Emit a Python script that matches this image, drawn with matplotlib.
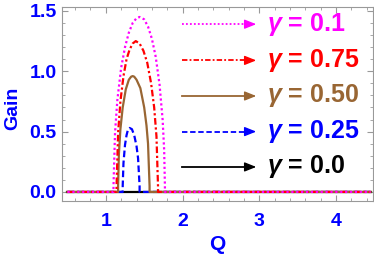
import matplotlib
matplotlib.use("Agg")
import matplotlib.pyplot as plt
from matplotlib.ticker import MultipleLocator

# data (Q, Gain)
q_black = [0.5, 4.45]
g_black = [0.0, 0.0]

q_blue = [0.5, 1.22, 1.22, 1.23, 1.25, 1.27, 1.29, 1.31, 1.34, 1.37, 1.40, 1.42, 1.44, 1.44, 4.45]
g_blue = [0.0, 0.0, 0.05, 0.24, 0.39, 0.47, 0.52, 0.53, 0.52, 0.47, 0.38, 0.28, 0.05, 0.0, 0.0]

q_brown = [0.5, 1.16, 1.16, 1.17, 1.19, 1.22, 1.26, 1.30, 1.33, 1.35, 1.37, 1.40, 1.45, 1.50, 1.53, 1.55, 1.57, 1.57, 4.45]
g_brown = [0.0, 0.0, 0.05, 0.31, 0.52, 0.70, 0.85, 0.93, 0.955, 0.96, 0.955, 0.93, 0.86, 0.70, 0.55, 0.40, 0.05, 0.0, 0.0]

q_red = [0.5, 1.14, 1.14, 1.16, 1.19, 1.23, 1.27, 1.31, 1.35, 1.39, 1.44, 1.49, 1.54, 1.59, 1.63, 1.66, 1.68, 1.68, 4.45]
g_red = [0.0, 0.0, 0.05, 0.49, 0.75, 0.96, 1.10, 1.18, 1.23, 1.25, 1.23, 1.17, 1.07, 0.90, 0.70, 0.46, 0.05, 0.0, 0.0]

q_mag = [0.5, 1.10, 1.10, 1.12, 1.15, 1.20, 1.25, 1.30, 1.35, 1.40, 1.44, 1.50, 1.55, 1.60, 1.65, 1.70, 1.74, 1.76, 1.77, 1.77, 4.45]
g_mag = [0.0, 0.0, 0.05, 0.49, 0.76, 1.03, 1.20, 1.32, 1.40, 1.44, 1.45, 1.43, 1.37, 1.27, 1.12, 0.89, 0.60, 0.35, 0.05, 0.0, 0.0]

labels = ["0.1", "0.75", "0.50", "0.25", "0.0"]
label_y = [1.39, 1.09, 0.795, 0.50, 0.207]

magenta = "#FF00FF"
red = "#FF0000"
brown = "#996633"
blue = "#0000FF"
black = "#000000"

plt.rcParams["font.family"] = ["Liberation Sans", "DejaVu Sans"]
plt.rcParams["mathtext.fontset"] = "custom"
plt.rcParams["mathtext.it"] = "Liberation Sans:bold:italic"
plt.rcParams["mathtext.rm"] = "Liberation Sans:bold"

fig = plt.figure(figsize=(3.74, 2.57), dpi=100)
ax = fig.add_axes([0.166, 0.218, 0.831, 0.755])

lw = 1.6
ax.plot(q_black, g_black, color=black, lw=lw, ls="-")
ax.plot(q_blue, g_blue, color=blue, lw=lw, ls=(0, (3, 1.5)))
ax.plot(q_brown, g_brown, color=brown, lw=lw, ls="-")
ax.plot(q_red, g_red, color=red, lw=lw, ls=(0, (3, 1.2, 1, 1.2)))
ax.plot(q_mag, g_mag, color=magenta, lw=lw, ls=(0, (1, 1.2)))

# legend-like arrows with labels
styles = [(0, (1, 1.2)), (0, (3, 1.2, 1, 1.2)), "-", (0, (3, 1.5)), "-"]
colors = [magenta, red, brown, blue, black]
for lab, y, c, s in zip(labels, label_y, colors, styles):
    ax.plot([1.99, 2.88], [y, y], color=c, lw=1.3, ls=s)
    ax.annotate("", xy=(2.96, y), xytext=(2.86, y),
                arrowprops=dict(arrowstyle="-|>,head_length=0.7,head_width=0.28",
                                color=c, lw=1.0, shrinkA=0, shrinkB=0))
    ax.text(3.10, y, r"$\gamma$" + " = " + lab, color=c, fontsize=18,
            fontweight="bold", va="center", ha="left")

ax.set_xlim(0.43, 4.48)
ax.set_ylim(-0.075, 1.533)
ax.set_xticks([1, 2, 3, 4])
ax.set_yticks([0.0, 0.5, 1.0, 1.5])
ax.set_yticklabels(["0.0", "0.5", "1.0", "1.5"])
ax.xaxis.set_minor_locator(MultipleLocator(0.2))
ax.yaxis.set_minor_locator(MultipleLocator(0.1))
ax.tick_params(which="both", direction="in", top=True, right=True, color="#999999")
ax.tick_params(which="major", length=4, width=0.8, labelsize=14, labelcolor=blue)
ax.tick_params(which="minor", length=2, width=0.6)
ax.tick_params(axis="x", pad=9)
ax.tick_params(axis="y", pad=4)
for lab in ax.get_xticklabels() + ax.get_yticklabels():
    lab.set_fontweight("bold")
for sp in ax.spines.values():
    sp.set_color("#999999")
    sp.set_linewidth(0.8)

fig.text(217 / 374, 1 - 245 / 257, "Q", color=blue, fontsize=15,
         fontweight="bold", ha="center", va="center")
fig.text(13 / 374, 1 - 108 / 257, "Gain", color=blue, fontsize=14,
         fontweight="bold", ha="center", va="center", rotation=90)

fig.savefig("out.png", dpi=100)
